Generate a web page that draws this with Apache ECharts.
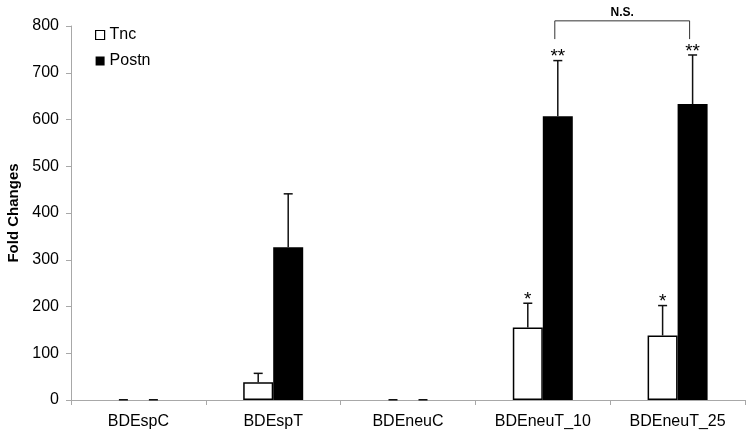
<!DOCTYPE html>
<html>
<head>
<meta charset="utf-8">
<script src="https://cdn.jsdelivr.net/npm/echarts@6/dist/echarts.min.js"></script>
<style>
  html, body { margin: 0; padding: 0; background: #fff; }
  #chart { width: 754px; height: 443px; }
</style>
</head>
<body>
<div id="chart"></div>
<script>
const categories = ["BDEspC", "BDEspT", "BDEneuC", "BDEneuT_10", "BDEneuT_25"];
const tncValues = [0, 38, 0, 155, 138];
const tncErrors = [0.5, 19, 0.5, 52, 64];
const tncMarks = ["", "", "", "*", "*"];
const postnValues = [0, 327, 0, 607, 633];
const postnErrors = [0.5, 114, 0.5, 119, 105];
const postnMarks = ["", "", "", "**", "**"];
// bracket between BDEneuT_10 and BDEneuT_25 Postn bars: [from, to, top, bottom]
const bracket = [[3, 4, 811, 772]];
const bracketLabel = "N.S.";

const BAR_W = 30;
const font = "'Liberation Sans', Arial, sans-serif";

const chart = echarts.init(document.getElementById("chart"));

// error bar renderer, side = -1 (Tnc, left) or +1 (Postn, right)
function errorBar(side, marks) {
  return function (params, api) {
    const i = api.value(0);
    const base = api.coord([i, api.value(1)]);
    const top = api.coord([i, api.value(1) + api.value(2)]);
    const x = base[0] + side * BAR_W / 2;
    const children = [
      { type: "line", shape: { x1: x, y1: base[1], x2: x, y2: top[1] },
        style: { stroke: "#111", lineWidth: 1.5 } },
      { type: "line", shape: { x1: x - 4.5, y1: top[1], x2: x + 4.5, y2: top[1] },
        style: { stroke: "#111", lineWidth: 1.5 } }
    ];
    if (marks[i]) {
      children.push({
        type: "text",
        style: { text: marks[i], x: x, y: top[1] + 6, align: "center",
          verticalAlign: "bottom", font: "19px " + font, fill: "#000" }
      });
    }
    return { type: "group", children: children };
  };
}

// zero-valued bars show no outline, only the error cap
const barData = (arr) => arr.map(v => v === 0 ? { value: 0, itemStyle: { borderWidth: 0 } } : v);

const option = {
  animation: false,
  grid: { left: 71, right: 9, top: 26, bottom: 43, outerBoundsMode: "none" },
  legend: {
    orient: "vertical",
    left: 90,
    top: 22,
    itemWidth: 9,
    itemHeight: 9,
    itemGap: 10,
    icon: "rect",
    textStyle: { fontSize: 16, fontFamily: font, color: "#000" },
    data: [
      { name: "Tnc", itemStyle: { color: "#fff", borderColor: "#000", borderWidth: 1.2 } },
      { name: "Postn", itemStyle: { color: "#000" } }
    ]
  },
  xAxis: {
    type: "category",
    data: categories,
    axisLine: { lineStyle: { color: "#a8a8a8", width: 1 } },
    axisTick: { show: true, length: 5, lineStyle: { color: "#a8a8a8" } },
    axisLabel: { fontSize: 16, fontFamily: font, color: "#000", margin: 14 }
  },
  yAxis: {
    type: "value",
    min: 0,
    max: 800,
    interval: 100,
    name: "Fold Changes",
    nameLocation: "middle",
    nameGap: 47,
    nameTextStyle: { fontSize: 15, fontWeight: "bold", fontFamily: font, color: "#000" },
    axisLine: { show: true, lineStyle: { color: "#a8a8a8", width: 1 } },
    axisTick: { show: true, length: 5, lineStyle: { color: "#a8a8a8" } },
    axisLabel: { fontSize: 16, fontFamily: font, color: "#000", margin: 12 },
    splitLine: { show: false }
  },
  series: [
    {
      name: "Tnc", type: "bar", data: barData(tncValues), barWidth: BAR_W, barGap: "0%",
      itemStyle: { color: "#fff", borderColor: "#000", borderWidth: 1.5 }
    },
    {
      name: "Postn", type: "bar", data: barData(postnValues), barWidth: BAR_W,
      itemStyle: { color: "#000" }
    },
    {
      type: "custom", clip: false, silent: true, z: 3,
      renderItem: errorBar(-1, tncMarks),
      data: tncValues.map((v, i) => [i, v, tncErrors[i]])
    },
    {
      type: "custom", clip: false, silent: true, z: 3,
      renderItem: errorBar(1, postnMarks),
      data: postnValues.map((v, i) => [i, v, postnErrors[i]])
    },
    {
      type: "custom", clip: false, silent: true, z: 3,
      renderItem: function (params, api) {
        const a = api.coord([api.value(0), api.value(2)]);
        const b = api.coord([api.value(1), api.value(2)]);
        const low = api.coord([api.value(0), api.value(3)]);
        const x1 = a[0] + BAR_W / 2 - 3, x2 = b[0] + BAR_W / 2 - 3;
        return {
          type: "group",
          children: [
            { type: "polyline",
              shape: { points: [[x1, low[1]], [x1, a[1]], [x2, a[1]], [x2, low[1]]] },
              style: { stroke: "#333", lineWidth: 1, fill: null } },
            { type: "text",
              style: { text: bracketLabel, x: (x1 + x2) / 2, y: a[1] - 2, align: "center",
                verticalAlign: "bottom", font: "bold 12px " + font, fill: "#000" } }
          ]
        };
      },
      data: bracket
    }
  ]
};

chart.setOption(option);
</script>
</body>
</html>
